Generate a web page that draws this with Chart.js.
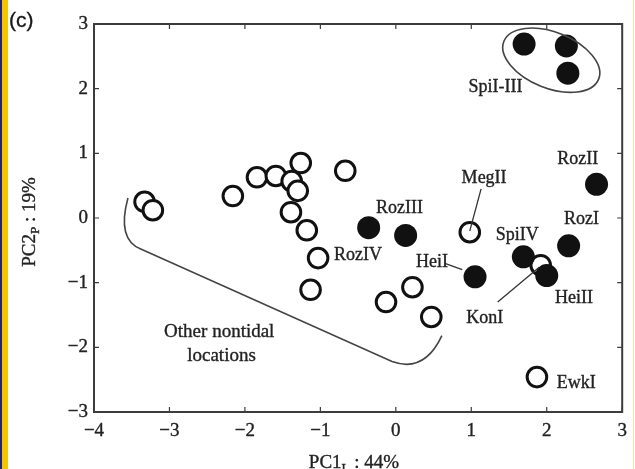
<!DOCTYPE html>
<html>
<head>
<meta charset="utf-8">
<script src="https://cdn.jsdelivr.net/npm/chart.js@4.4.1/dist/chart.umd.min.js"></script>
<style>
html, body { margin: 0; padding: 0; background: #fff; }
canvas { display: block; }
</style>
</head>
<body>
<canvas id="pca" width="635" height="469"></canvas>
<script>
// PCA scores: open = nontidal sites, filled = tidal sites
const openPC1 = [-3.33, -3.22, -2.16, -1.84, -1.59, -1.38, -1.26, -1.30, -1.39, -1.18, -0.67, -1.03, -1.13, -0.13, 0.22, 0.47, 0.98, 1.92, 1.87]
const openPC2 = [0.25, 0.12, 0.34, 0.63, 0.65, 0.57, 0.85, 0.42, 0.09, -0.19, 0.73, -0.62, -1.11, -1.30, -1.07, -1.53, -0.22, -0.73, -2.46]
const filledPC1 = [1.70, 2.26, 2.28, 2.66, -0.36, 0.13, 1.05, 1.69, 2.29, 2.00]
const filledPC2 = [2.69, 2.66, 2.24, 0.52, -0.15, -0.27, -0.91, -0.60, -0.43, -0.89]

const xTicks = [-4, -3, -2, -1, 0, 1, 2, 3]
const yTicks = [-3, -2, -1, 0, 1, 2, 3]

const serif = '"Liberation Serif", "Times New Roman", serif'

function pts(xs, ys) {
  return xs.map((x, i) => ({ x: x, y: ys[i] }))
}

// site names, placed in data units
let siteLabels = [
  { t: "SpiI-III", x: 1.32, y: 2.02 },
  { t: "RozII", x: 2.41, y: 0.91 },
  { t: "MegII", x: 1.17, y: 0.62 },
  { t: "RozIII", x: 0.05, y: 0.15 },
  { t: "RozIV", x: -0.50, y: -0.57 },
  { t: "HeiI", x: 0.48, y: -0.68 },
  { t: "SpiIV", x: 1.61, y: -0.26 },
  { t: "RozI", x: 2.46, y: -0.02 },
  { t: "HeiII", x: 2.36, y: -1.24 },
  { t: "KonI", x: 1.18, y: -1.55 },
  { t: "EwkI", x: 2.39, y: -2.55 }
]

// draws text a touch heavier, like the scanned print
function heavyText(c, s, x, y) {
  c.fillText(s, x, y)
  c.lineWidth = 0.35
  c.strokeStyle = c.fillStyle
  c.strokeText(s, x, y)
}

let decor = {
  id: "decor",
  beforeDraw(chart) {
    let c = chart.ctx
    c.save()
    c.fillStyle = "#fff"
    c.fillRect(0, 0, chart.width, chart.height)
    // side strip
    c.fillStyle = "#f2c600"
    c.fillRect(0, 0, 8, chart.height)
    c.fillStyle = "#23236e"
    c.fillRect(0, 0, 2, chart.height)
    c.fillStyle = "#f6e7a0"
    c.fillRect(633, 0, 1, chart.height)
    c.restore()
  },
  afterDraw(chart) {
    let c = chart.ctx
    let xs = chart.scales.x
    let ys = chart.scales.y
    let a = chart.chartArea
    let px = v => xs.getPixelForValue(v)
    let py = v => ys.getPixelForValue(v)

    c.save()
    // box
    c.strokeStyle = "#3c3c3c"
    c.lineWidth = 2
    c.strokeRect(a.left, a.top, a.right - a.left, a.bottom - a.top)

    // inward ticks on every side
    c.lineWidth = 1.2
    c.beginPath()
    xTicks.forEach(v => {
      let x = px(v)
      c.moveTo(x, a.bottom); c.lineTo(x, a.bottom - 5)
      c.moveTo(x, a.top); c.lineTo(x, a.top + 5)
    })
    yTicks.forEach(v => {
      let y = py(v)
      c.moveTo(a.left, y); c.lineTo(a.left + 5, y)
      c.moveTo(a.right, y); c.lineTo(a.right - 5, y)
    })
    c.stroke()

    // tick labels
    c.fillStyle = "#222"
    c.font = "19px " + serif
    c.textBaseline = "middle"
    c.textAlign = "center"
    xTicks.forEach(v => heavyText(c, String(v).replace("-", "\u2212"), px(v), 431))
    c.textAlign = "right"
    yTicks.forEach(v => heavyText(c, String(v).replace("-", "\u2212"), 88, py(v)))

    // axis titles with subscripts
    function subTitle(main, sub, rest, x, y) {
      c.font = "19px " + serif
      let w1 = c.measureText(main).width
      c.font = "13px " + serif
      let w2 = c.measureText(sub).width
      c.font = "19px " + serif
      let w3 = c.measureText(rest).width
      let x0 = x - (w1 + w2 + w3) / 2
      c.textAlign = "left"
      heavyText(c, main, x0, y)
      c.font = "13px " + serif
      heavyText(c, sub, x0 + w1, y + 6)
      c.font = "19px " + serif
      heavyText(c, rest, x0 + w1 + w2, y)
    }
    subTitle("PC1", "L", " : 44%", 354, 463)
    c.save()
    c.translate(30, 222)
    c.rotate(-Math.PI / 2)
    subTitle("PC2", "P", " : 19%", 0, 0)
    c.restore()

    // panel letter
    c.fillStyle = "#1a1a1a"
    c.font = "21px Arial, \"Liberation Sans\", sans-serif"
    c.textAlign = "left"
    heavyText(c, "(c)", 9, 21)

    // site labels
    c.fillStyle = "#222"
    c.font = "18px " + serif
    c.textAlign = "center"
    siteLabels.forEach(l => heavyText(c, l.t, px(l.x), py(l.y)))

    c.font = "19px " + serif
    heavyText(c, "Other nontidal", px(-2.34), py(-1.77))
    heavyText(c, "locations", px(-2.31), py(-2.13))

    // leader lines
    c.strokeStyle = "#333"
    c.lineWidth = 1.3
    c.beginPath()
    c.moveTo(px(1.13), py(0.45)); c.lineTo(px(0.98), py(-0.20))
    c.moveTo(px(0.65), py(-0.70)); c.lineTo(px(0.88), py(-0.80))
    c.moveTo(px(1.35), py(-1.30)); c.lineTo(px(1.90), py(-0.76))
    c.stroke()

    // group outline for SpiI-III
    c.lineWidth = 1.6
    c.strokeStyle = "#444"
    c.beginPath()
    c.ellipse(px(2.06), py(2.44), 51, 28, 0.38, 0, Math.PI * 2)
    c.stroke()

    // bracket round the nontidal cloud
    c.beginPath()
    c.moveTo(px(-3.55), py(0.31))
    c.quadraticCurveTo(px(-3.70), py(-0.33), px(-3.38), py(-0.48))
    c.lineTo(px(-0.05), py(-2.22))
    c.quadraticCurveTo(px(0.38), py(-2.40), px(0.61), py(-1.82))
    c.stroke()
    c.restore()
  }
}

new Chart(document.getElementById("pca"), {
  type: "scatter",
  data: {
    datasets: [
      {
        data: pts(filledPC1, filledPC2),
        pointRadius: 11.5,
        pointBorderWidth: 0,
        pointBackgroundColor: "#111",
        pointBorderColor: "#111"
      },
      {
        data: pts(openPC1, openPC2),
        pointRadius: 9.8,
        pointBorderWidth: 3,
        pointBackgroundColor: "#fff",
        pointBorderColor: "#111"
      }
    ]
  },
  options: {
    responsive: false,
    animation: false,
    events: [],
    layout: { padding: { top: 24, right: 9, left: 0, bottom: 0 } },
    plugins: { legend: { display: false }, tooltip: { enabled: false } },
    scales: {
      x: {
        type: "linear", min: -4, max: 3,
        grid: { display: false }, border: { display: false },
        ticks: { display: false, stepSize: 1 },
        afterFit(s) { s.height = 57 }
      },
      y: {
        type: "linear", min: -3, max: 3,
        grid: { display: false }, border: { display: false },
        ticks: { display: false, stepSize: 1 },
        afterFit(s) { s.width = 94 }
      }
    }
  },
  plugins: [decor]
})
</script>
</body>
</html>
